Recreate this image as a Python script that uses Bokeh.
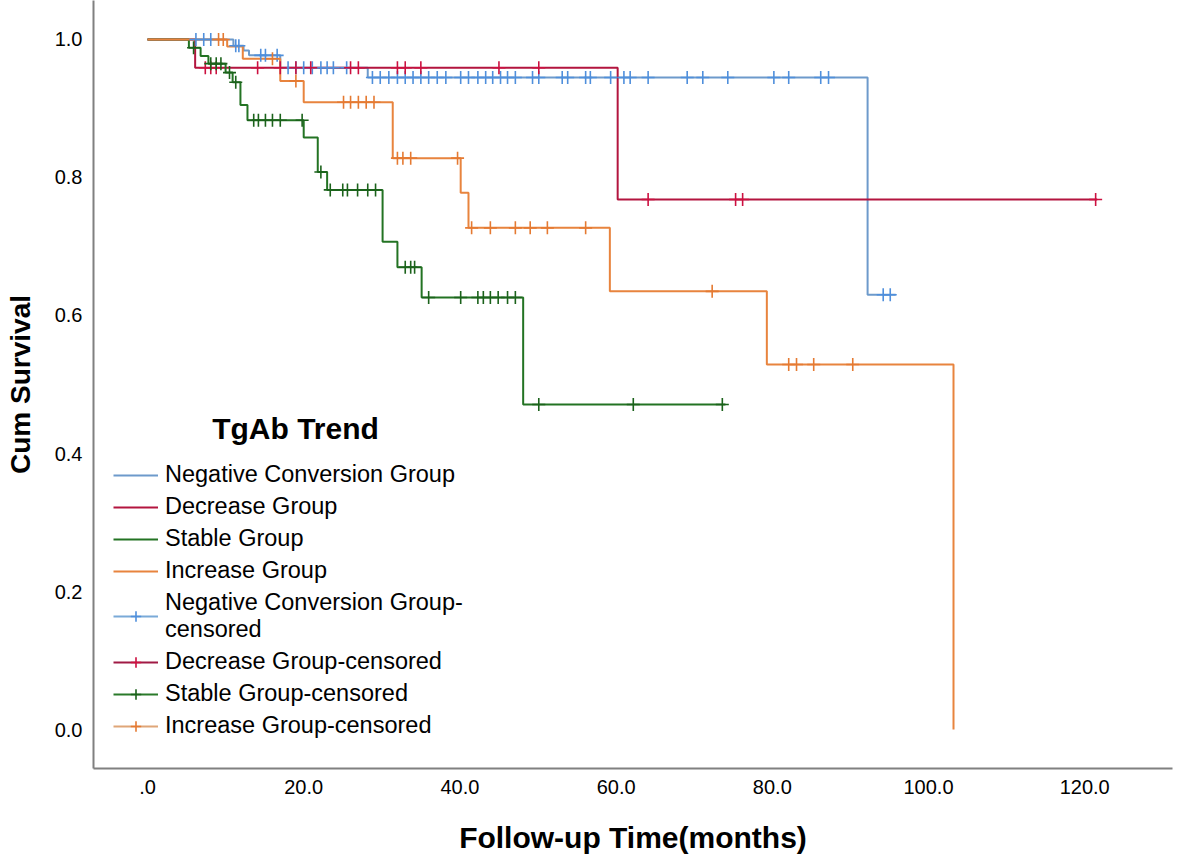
import numpy as np
from bokeh.plotting import figure
from bokeh.models import (Range1d, FixedTicker, Legend, LegendItem, Label,
                          PrintfTickFormatter)
from bokeh.embed import file_html
from bokeh.resources import INLINE

# ---------------- data ----------------
x_ticks = [0, 20, 40, 60, 80, 100, 120]
x_tick_labels = [".0", "20.0", "40.0", "60.0", "80.0", "100.0", "120.0"]
y_ticks = [0.0, 0.2, 0.4, 0.6, 0.8, 1.0]

x_title = "Follow-up Time(months)"
y_title = "Cum Survival"
legend_title = "TgAb Trend"
group_names = ["Negative Conversion Group", "Decrease Group", "Stable Group", "Increase Group"]

neg_times = [0, 11.0, 12.3, 13.0, 17.0, 28.2, 92.2]
neg_surv = [1.0, 0.991, 0.984, 0.977, 0.959, 0.945, 0.630]
neg_end = 95.8
neg_cens = [6.2, 7.2, 8.1, 11.3, 11.7, 14.5, 15.1, 16.6, 18.0, 19.0, 20.0, 21.1, 22.2,
            23.0, 23.8, 25.5, 28.8, 29.8, 30.9, 32.0, 33.0, 34.0, 35.0, 36.0,
            37.1, 38.2, 40.1, 41.1, 42.3, 43.3, 44.2, 45.2, 46.1, 47.1, 49.3, 50.1,
            53.1, 53.8, 56.1, 56.7, 59.3, 61.0, 61.8, 64.1, 69.1, 71.1, 74.3, 80.2,
            82.1, 86.2, 87.2, 94.2, 95.1]

dec_times = [0, 6.1, 60.2]
dec_surv = [1.0, 0.959, 0.768]
dec_end = 121.6
dec_cens = [7.4, 8.1, 8.8, 14.1, 17.0, 19.0, 20.9, 26.0, 27.0, 32.0, 33.0, 35.0,
            45.0, 50.1, 64.1, 75.3, 76.2, 121.4]

sta_times = [0, 5.3, 6.8, 7.8, 10.0, 10.9, 11.9, 12.8, 20.0, 21.8, 23.0, 30.1, 32.0, 35.1, 48.1]
sta_surv = [1.0, 0.988, 0.976, 0.965, 0.952, 0.938, 0.905, 0.883, 0.858, 0.808, 0.782,
            0.707, 0.670, 0.626, 0.471]
sta_end = 74.0
sta_cens = [5.9, 8.1, 8.8, 9.4, 10.5, 11.3, 13.6, 14.2, 15.1, 16.0, 17.0, 19.8, 22.2,
            23.4, 25.0, 25.6, 26.9, 28.2, 29.2, 33.0, 33.7, 34.2, 36.0, 40.1, 42.3,
            43.0, 43.9, 44.9, 46.1, 47.1, 50.1, 62.2, 73.6]

inc_times = [0, 10.2, 12.2, 17.0, 20.0, 31.4, 40.1, 41.1, 59.2, 79.3, 103.2]
inc_surv = [1.0, 0.990, 0.972, 0.940, 0.909, 0.828, 0.778, 0.727, 0.635, 0.529, 0.0]
inc_end = 103.2
inc_cens = [9.1, 9.7, 16.0, 19.0, 25.1, 26.0, 27.0, 28.0, 29.0, 32.0, 32.7, 33.7,
            39.7, 41.5, 43.9, 47.1, 49.0, 51.2, 56.1, 72.3, 82.1, 83.1, 85.3, 90.3]

line_colors = ["#6d9acb", "#b3153f", "#237323", "#e8843e"]
cens_colors = ["#4f8fdc", "#cc1040", "#1b621b", "#e57a32"]
legend_cens_colors = ["#7aaad8", "#a01a45", "#2a7a2a", "#dfa678"]

groups = [
    (neg_times, neg_surv, neg_end, neg_cens),
    (dec_times, dec_surv, dec_end, dec_cens),
    (sta_times, sta_surv, sta_end, sta_cens),
    (inc_times, inc_surv, inc_end, inc_cens),
]

FONT = "Liberation Sans"

p = figure(width=1176, height=862, output_backend="svg", toolbar_location=None,
           x_range=Range1d(-6.914, 131.24), y_range=Range1d(-0.0565, 1.0565),
           min_border_left=93, min_border_right=4, min_border_top=0,
           min_border_bottom=94)
p.outline_line_color = None
p.xgrid.visible = False
p.ygrid.visible = False
p.background_fill_color = "white"
p.border_fill_color = "white"

step_renderers = []
cens_renderers = []
legend_line_renderers = []
for i, (times, surv, end, cens) in enumerate(groups):
    xs = list(times)
    ys = list(surv)
    if end > xs[-1]:
        xs.append(end)
        ys.append(ys[-1])
    r = p.step(xs, ys, mode="after", line_color=line_colors[i], line_width=2)
    step_renderers.append(r)

for i, (times, surv, end, cens) in enumerate(groups):
    c = np.asarray(cens, dtype=float)
    idx = np.searchsorted(np.asarray(times, dtype=float), c, side="right") - 1
    cy = np.asarray(surv, dtype=float)[idx]
    rc = p.scatter(c, cy, marker="cross", size=13, line_color=cens_colors[i],
                   line_width=1.6)
    cens_renderers.append(rc)
    # legend-only line (NaN data: nothing drawn inside the plot)
    lr = p.line(x=np.array([np.nan]), y=np.array([np.nan]),
                line_color=legend_cens_colors[i], line_width=2)
    legend_line_renderers.append(lr)

items = []
for i, name in enumerate(group_names):
    items.append(LegendItem(label=name, renderers=[step_renderers[i]]))
for i, name in enumerate(group_names):
    lab = name + "-censored"
    if i == 0:
        lab = name + "-\ncensored"
    items.append(LegendItem(label=lab, renderers=[legend_line_renderers[i], cens_renderers[i]]))

legend = Legend(items=items, location=(20, 29), padding=0, margin=0,
                border_line_color=None, background_fill_alpha=0,
                label_text_font=FONT, label_text_font_size="23.5px",
                label_text_color="black", label_text_line_height=0.8,
                glyph_width=45, glyph_height=26, label_height=26,
                spacing=5, label_standoff=7)
p.add_layout(legend)

p.add_layout(Label(x=202, y=340, x_units="screen", y_units="screen", text=legend_title,
                   text_font=FONT, text_font_size="30px", text_font_style="bold",
                   text_align="center", text_baseline="middle", text_color="black"))

for ax in (p.xaxis[0], p.yaxis[0]):
    ax.axis_line_color = "#808080"
    ax.axis_line_width = 2
    ax.major_tick_out = 0
    ax.major_tick_in = 0
    ax.minor_tick_line_color = None
    ax.major_tick_line_color = None
    ax.major_label_text_font = FONT
    ax.major_label_text_font_size = "20px"
    ax.major_label_text_color = "black"
    ax.major_label_standoff = 11
    ax.axis_label_text_font = FONT
    ax.axis_label_text_font_style = "bold"
    ax.axis_label_text_color = "black"

p.xaxis.ticker = FixedTicker(ticks=x_ticks)
p.xaxis.major_label_overrides = {t: lab for t, lab in zip(x_ticks, x_tick_labels)}
p.xaxis.axis_label = x_title
p.xaxis.axis_label_text_font_size = "30px"
p.xaxis.axis_label_standoff = 24

p.yaxis.ticker = FixedTicker(ticks=y_ticks)
p.yaxis.formatter = PrintfTickFormatter(format="%.1f")
p.yaxis.axis_label = y_title
p.yaxis.axis_label_text_font_size = "28px"
p.yaxis.axis_label_standoff = 16

open("out.html", "w").write(file_html(p, INLINE))
